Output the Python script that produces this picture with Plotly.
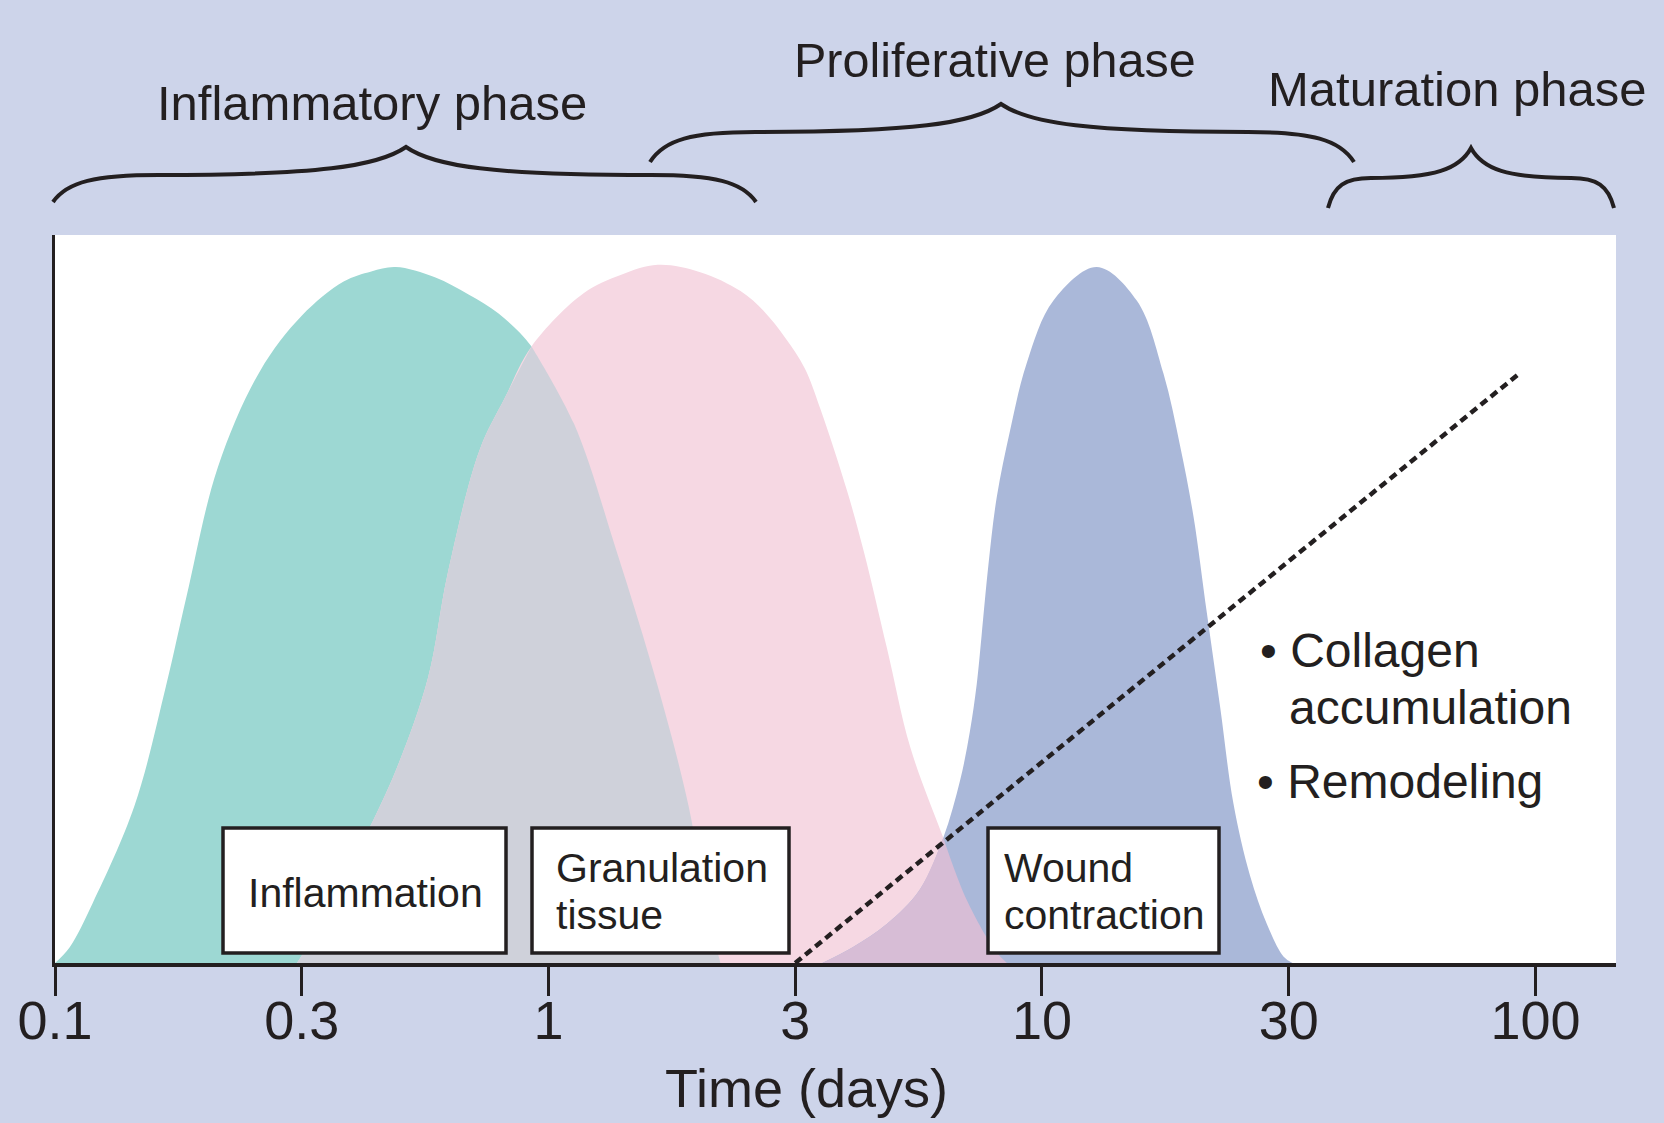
import numpy as np
import plotly.graph_objects as go

# ---------------- data ----------------
tick_vals = [0.1, 0.3162, 1, 3.162, 10, 31.62, 100]
tick_text = ["0.1", "0.3", "1", "3", "10", "30", "100"]

inflammation_days = [0.1, 0.1072, 0.1192, 0.1449, 0.1678, 0.1848, 0.2138, 0.2602, 0.3162,
                     0.3845, 0.4375, 0.49, 0.5886, 0.69, 0.7922, 0.9239, 1.126, 1.369,
                     1.665, 1.922, 2.081, 2.230]
inflammation_level = [0, 0.022, 0.082, 0.216, 0.380, 0.504, 0.681, 0.813, 0.889,
                      0.936, 0.950, 0.956, 0.942, 0.918, 0.892, 0.847, 0.741, 0.569,
                      0.380, 0.216, 0.085, 0]

granulation_days = [0.3093, 0.3623, 0.4246, 0.4923, 0.5696, 0.6248, 0.7246, 0.8168, 0.9239,
                    1.178, 1.400, 1.665, 2.030, 2.450, 2.735, 3.017, 3.299, 3.552, 4.021,
                    4.352, 4.853, 5.411, 6.310, 7.036, 8.082, 8.492]
granulation_level = [0, 0.077, 0.172, 0.267, 0.391, 0.535, 0.704, 0.777, 0.847,
                     0.920, 0.945, 0.959, 0.949, 0.923, 0.895, 0.859, 0.818, 0.762, 0.650,
                     0.566, 0.432, 0.296, 0.172, 0.087, 0.015, 0]

contraction_days = [3.588, 4.142, 4.853, 5.656, 6.310, 6.831, 7.143, 7.375, 7.542, 7.789,
                    8.098, 8.621, 9.311, 10.55, 12.91, 15.56, 17.62, 19.04, 20.27, 21.58,
                    22.98, 24.43, 26.40, 28.54, 30.85, 32.18]
contraction_level = [0, 0.022, 0.054, 0.101, 0.172, 0.252, 0.318, 0.383, 0.449, 0.547,
                     0.640, 0.732, 0.824, 0.910, 0.956, 0.910, 0.810, 0.711, 0.614, 0.481,
                     0.350, 0.219, 0.120, 0.054, 0.009, 0]

# crossing points of neighbouring curves (days)
cross_inflam_gran = 0.9239
cross_gran_contr = 6.310

collagen_days = [3.162, 92.8]
collagen_level = [0, 0.81]

phase_labels = ["Inflammatory phase", "Proliferative phase", "Maturation phase"]
box_labels = ["Inflammation", "Granulation", "tissue", "Wound", "contraction"]
maturation_notes = ["\u2022 Collagen", "accumulation", "\u2022 Remodeling"]
axis_title = "Time (days)"

# ---------------- styling ----------------
BG = "#CDD4EA"
INK = "#231F20"
TEAL = "#9DD8D3"
PINK = "#F6D8E3"
GRAY = "#CFD1DA"
BLUE = "#AAB8D9"
PURPLE = "#D7BDD6"
FONT = "Liberation Sans, Arial, Helvetica, sans-serif"

W, H = 1664, 1123
ML, MR, MT, MB = 55, 48, 235, 160
PW, PH = W - ML - MR, H - MT - MB


def px(ax):
    return (ax - ML) / PW


def py(ay):
    return (H - MB - ay) / PH


def overlap(xa, ya, xb, yb, cross):
    """Region under both curves: left part of curve a up to the crossing, right part of b after it.
    The crossing point is kept in both halves so the spline makes a sharp tip there."""
    xa, ya, xb, yb = map(np.asarray, (xa, ya, xb, yb))
    left = xa <= cross * (1 + 1e-9)
    right = xb >= cross * (1 - 1e-9)
    return np.concatenate([xa[left], xb[right]]), np.concatenate([ya[left], yb[right]])


gray_x, gray_y = overlap(granulation_days, granulation_level,
                         inflammation_days, inflammation_level, cross_inflam_gran)
purple_x, purple_y = overlap(contraction_days, contraction_level,
                             granulation_days, granulation_level, cross_gran_contr)

fig = go.Figure()


def area(x, y, color):
    fig.add_trace(go.Scatter(x=x, y=y, mode="lines", fill="toself", fillcolor=color,
                             line=dict(width=0, shape="spline", smoothing=1.0, color=color),
                             hoverinfo="skip", showlegend=False))


area(inflammation_days, inflammation_level, TEAL)
area(granulation_days, granulation_level, PINK)
area(gray_x, gray_y, GRAY)
area(contraction_days, contraction_level, BLUE)
area(purple_x, purple_y, PURPLE)

fig.add_trace(go.Scatter(x=collagen_days, y=collagen_level, mode="lines",
                         line=dict(color=INK, width=4.5, dash="8px,5px"),
                         hoverinfo="skip", showlegend=False))


# ---------------- braces ----------------
def brace_path(xl, xc, xr, yt, ya, yc):
    L1, L2 = xc - xl, xr - xc
    segs = [
        ("M", [(xl, yt)]),
        ("C", [(xl + 0.04 * L1, yt - 0.75 * (yt - ya)), (xl + 0.12 * L1, ya), (xl + 0.30 * L1, ya)]),
        ("C", [(xl + 0.75 * L1, ya), (xc - 0.08 * L1, ya - 0.3 * (ya - yc)), (xc, yc)]),
        ("C", [(xc + 0.08 * L2, ya - 0.3 * (ya - yc)), (xr - 0.75 * L2, ya), (xr - 0.30 * L2, ya)]),
        ("C", [(xr - 0.12 * L2, ya), (xr - 0.04 * L2, yt - 0.75 * (yt - ya)), (xr, yt)]),
    ]
    out = []
    for cmd, pts in segs:
        out.append(cmd + " " + " ".join(f"{px(a):.5f},{py(b):.5f}" for a, b in pts))
    return " ".join(out)


shapes = []
for (xl, xc, xr, yt, ya, yc) in [(53, 406, 756, 202, 175, 147),
                                 (650, 1001, 1354, 162, 132, 104),
                                 (1328, 1471, 1614, 208, 178, 148)]:
    shapes.append(dict(type="path", xref="paper", yref="paper",
                       path=brace_path(xl, xc, xr, yt, ya, yc),
                       line=dict(color=INK, width=4), layer="above"))

# label boxes
for (x0, x1) in [(223, 506), (532, 789), (988, 1219)]:
    shapes.append(dict(type="rect", xref="paper", yref="paper",
                       x0=px(x0), x1=px(x1), y0=py(953), y1=py(828),
                       fillcolor="white", line=dict(color=INK, width=3.5), layer="above"))

ann = []


def text(t, x, y, size, xanchor="center"):
    ann.append(dict(text=t, x=px(x), y=py(y), xref="paper", yref="paper",
                    xanchor=xanchor, yanchor="middle", showarrow=False,
                    font=dict(family=FONT, size=size, color=INK)))


# phase labels (x centre, middle y)
text(phase_labels[0], 372, 103, 49)
text(phase_labels[1], 995, 60, 48.5)
text(phase_labels[2], 1457, 89, 49)

# box labels
text(box_labels[0], 365, 893, 41)
text(box_labels[1], 554, 868, 41, "left")
text(box_labels[2], 554, 915, 41, "left")
text(box_labels[3], 1002, 868, 41, "left")
text(box_labels[4], 1002, 915, 41, "left")

# maturation notes
text(maturation_notes[0], 1258, 650, 48, "left")
text(maturation_notes[1], 1287, 707, 48, "left")
text(maturation_notes[2], 1255, 781, 48, "left")

# axis title
text(axis_title, 806, 1088, 54)

fig.update_layout(
    width=W, height=H,
    margin=dict(l=ML, r=MR, t=MT, b=MB, pad=0),
    paper_bgcolor=BG, plot_bgcolor="white",
    showlegend=False, hovermode=False,
    shapes=shapes, annotations=ann,
    xaxis=dict(type="log", range=[-1, np.log10(145.6)], showgrid=False, zeroline=False,
               showline=True, linecolor=INK, linewidth=3.5,
               ticks="outside", ticklen=29, tickwidth=2.5, tickcolor=INK,
               tickvals=tick_vals, ticktext=tick_text, ticklabelstandoff=-22,
               tickfont=dict(family=FONT, size=54, color=INK)),
    yaxis=dict(range=[0, 1], showgrid=False, zeroline=False, showline=True,
               linecolor=INK, linewidth=3, showticklabels=False, ticks=""),
)

fig.write_html("out.html", config={"displayModeBar": False},
               post_script="document.body.style.margin='0px';")
